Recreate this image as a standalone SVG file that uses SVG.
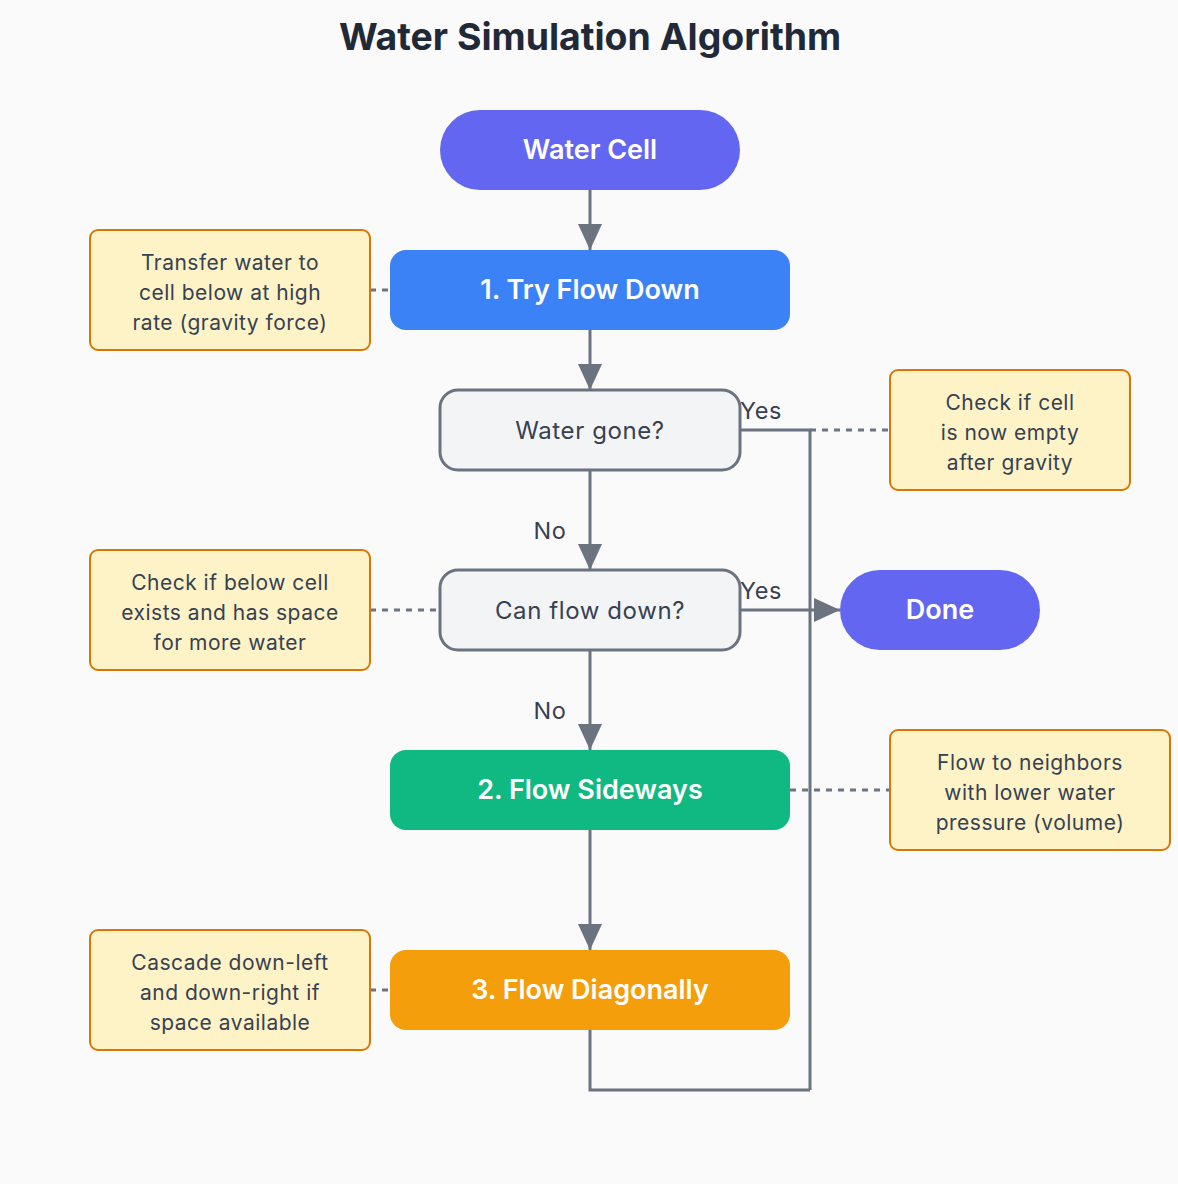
<svg xmlns="http://www.w3.org/2000/svg" width="1178" height="1184" viewBox="0 0 1178 1184">
<defs>
<marker id="arr" viewBox="0 0 26 24" refX="26" refY="12" markerWidth="26" markerHeight="24" markerUnits="userSpaceOnUse" orient="auto">
<path d="M0,0 L26,12 L0,24 Z" fill="#6b7280"/>
</marker>
<style>
text{font-family:Inter,"Noto Sans","Liberation Sans",sans-serif;text-anchor:middle}
.title{font-size:37.4px;font-weight:700;fill:#1f2937}
.wt{font-size:27px;font-weight:600;fill:#ffffff}
.dt{font-size:24px;letter-spacing:0.6px;fill:#374151}
.nt{font-size:21px;letter-spacing:0.5px;fill:#374151}
.lbl{font-size:23.5px;letter-spacing:0.6px;fill:#374151}
.dec{fill:#f3f4f6;stroke:#6b7280;stroke-width:3}
.note{fill:#fef3c7;stroke:#d97706;stroke-width:2}
.edge{fill:none;stroke:#6b7280;stroke-width:3}
.dot{fill:none;stroke:#6b7280;stroke-width:3;stroke-dasharray:6 6}
</style>
</defs>
<rect width="1178" height="1184" fill="#fafafa"/>
<text class="title" x="590" y="50">Water Simulation Algorithm</text>

<g id="connectors">
<line class="edge" x1="590" y1="190" x2="590" y2="250" marker-end="url(#arr)"/>
<line class="edge" x1="590" y1="330" x2="590" y2="390" marker-end="url(#arr)"/>
<line class="edge" x1="590" y1="470" x2="590" y2="570" marker-end="url(#arr)"/>
<line class="edge" x1="590" y1="650" x2="590" y2="750" marker-end="url(#arr)"/>
<line class="edge" x1="590" y1="830" x2="590" y2="950" marker-end="url(#arr)"/>
<polyline class="edge" points="740,430 810,430 810,1090"/>
<polyline class="edge" points="590,1030 590,1090 810,1090"/>
<line class="edge" x1="740" y1="610" x2="840" y2="610" marker-end="url(#arr)"/>
<line class="dot" x1="370" y1="290" x2="390" y2="290"/>
<line class="dot" x1="810" y1="430" x2="890" y2="430"/>
<line class="dot" x1="370" y1="610" x2="440" y2="610"/>
<line class="dot" x1="790" y1="790" x2="890" y2="790"/>
<line class="dot" x1="370" y1="990" x2="390" y2="990"/>
<text class="lbl" x="761" y="419">Yes</text>
<text class="lbl" x="761" y="599">Yes</text>
<text class="lbl" x="550" y="539">No</text>
<text class="lbl" x="550" y="719">No</text>
</g>

<g id="start">
<rect x="440" y="110" width="300" height="80" rx="40" fill="#6366f1"/>
<text class="wt" x="590" y="159">Water Cell</text>
</g>
<g id="flowDown">
<rect x="390" y="250" width="400" height="80" rx="16" fill="#3b82f6"/>
<text class="wt" x="590" y="299">1. Try Flow Down</text>
</g>
<g id="waterGone">
<rect class="dec" x="440" y="390" width="300" height="80" rx="18"/>
<text class="dt" x="590" y="439">Water gone?</text>
</g>
<g id="canFlow">
<rect class="dec" x="440" y="570" width="300" height="80" rx="18"/>
<text class="dt" x="590" y="619">Can flow down?</text>
</g>
<g id="done">
<rect x="840" y="570" width="200" height="80" rx="40" fill="#6366f1"/>
<text class="wt" x="940" y="619">Done</text>
</g>
<g id="sideways">
<rect x="390" y="750" width="400" height="80" rx="16" fill="#10b981"/>
<text class="wt" x="590" y="799">2. Flow Sideways</text>
</g>
<g id="diagonal">
<rect x="390" y="950" width="400" height="80" rx="16" fill="#f59e0b"/>
<text class="wt" x="590" y="999">3. Flow Diagonally</text>
</g>

<g id="note1">
<rect class="note" x="90" y="230" width="280" height="120" rx="8"/>
<text class="nt" x="230" y="270">Transfer water to</text>
<text class="nt" x="230" y="300">cell below at high</text>
<text class="nt" x="230" y="330">rate (gravity force)</text>
</g>
<g id="note2">
<rect class="note" x="890" y="370" width="240" height="120" rx="8"/>
<text class="nt" x="1010" y="410">Check if cell</text>
<text class="nt" x="1010" y="440">is now empty</text>
<text class="nt" x="1010" y="470">after gravity</text>
</g>
<g id="note3">
<rect class="note" x="90" y="550" width="280" height="120" rx="8"/>
<text class="nt" x="230" y="590">Check if below cell</text>
<text class="nt" x="230" y="620">exists and has space</text>
<text class="nt" x="230" y="650">for more water</text>
</g>
<g id="note4">
<rect class="note" x="890" y="730" width="280" height="120" rx="8"/>
<text class="nt" x="1030" y="770">Flow to neighbors</text>
<text class="nt" x="1030" y="800">with lower water</text>
<text class="nt" x="1030" y="830">pressure (volume)</text>
</g>
<g id="note5">
<rect class="note" x="90" y="930" width="280" height="120" rx="8"/>
<text class="nt" x="230" y="970">Cascade down-left</text>
<text class="nt" x="230" y="1000">and down-right if</text>
<text class="nt" x="230" y="1030">space available</text>
</g>
</svg>
